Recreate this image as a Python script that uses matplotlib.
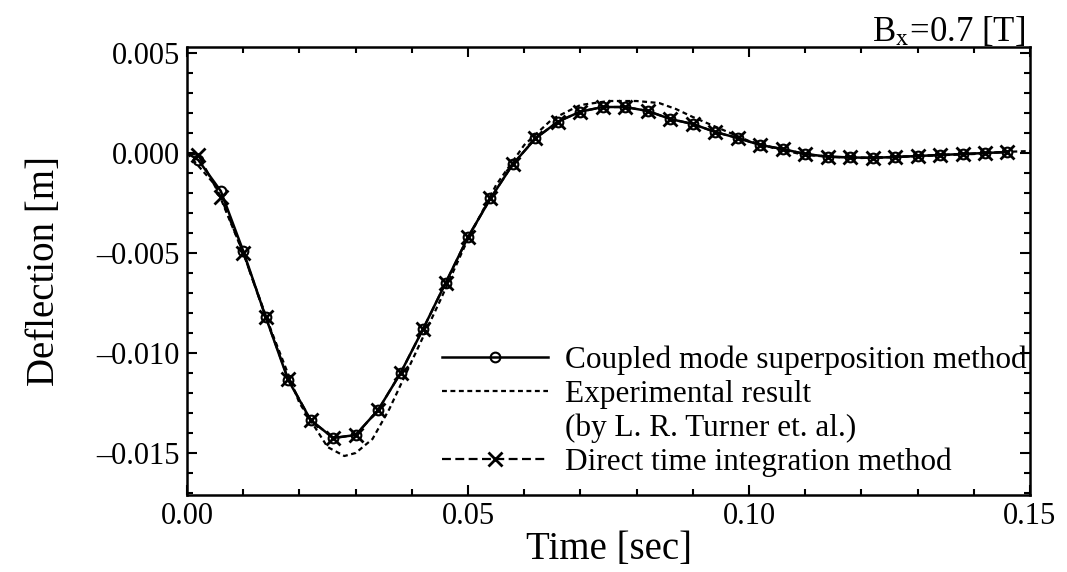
import numpy as np
from matplotlib import pyplot as plt
from matplotlib.lines import Line2D
from matplotlib.ticker import MultipleLocator, FixedLocator, FixedFormatter

plt.rcParams['font.family'] = ['Liberation Serif', 'DejaVu Serif']
plt.rcParams['mathtext.fontset'] = 'stix'

# marker times [sec] (t=0 start point is not marked)
TIME = [0.000, 0.002, 0.006, 0.010, 0.014, 0.018, 0.022, 0.026, 0.030, 0.034,
        0.038, 0.042, 0.046, 0.050, 0.054, 0.058, 0.062, 0.066, 0.070, 0.074,
        0.078, 0.082, 0.086, 0.090, 0.094, 0.098, 0.102, 0.106, 0.110, 0.114,
        0.118, 0.122, 0.126, 0.130, 0.134, 0.138, 0.142, 0.146]

# coupled mode superposition method
COUPLED = [0.0, -0.00035, -0.0019, -0.0049, -0.0082, -0.01135, -0.01335, -0.01425, -0.0141, -0.01285,
           -0.0110, -0.0088, -0.0065, -0.0042, -0.00227, -0.00055, 0.00073, 0.00157, 0.00207, 0.0023,
           0.0023, 0.0021, 0.0017, 0.00145, 0.00105, 0.00075, 0.0004, 0.0002, -0.00005, -0.00018,
           -0.00022, -0.00024, -0.0002, -0.00015, -0.0001, -0.00005, 0.0, 0.00005]

# direct time integration method
DIRECT = [0.0, -0.0001, -0.0022, -0.0050, -0.0082, -0.0113, -0.01335, -0.01425, -0.0141, -0.01285,
          -0.0110, -0.0088, -0.0065, -0.0042, -0.00227, -0.00055, 0.00073, 0.00157, 0.00207, 0.0023,
          0.0023, 0.0021, 0.0017, 0.00145, 0.00105, 0.00075, 0.0004, 0.0002, -0.00005, -0.00018,
          -0.00022, -0.00024, -0.0002, -0.00015, -0.0001, -0.00005, 0.0, 0.00005]

# experimental result (L. R. Turner et al.)
EXP_T = [0.000, 0.005, 0.010, 0.015, 0.020, 0.025, 0.028, 0.030, 0.033, 0.036,
         0.040, 0.045, 0.050, 0.055, 0.060, 0.065, 0.070, 0.075, 0.080, 0.084,
         0.087, 0.090, 0.095, 0.100, 0.105, 0.110, 0.115, 0.120, 0.125, 0.130,
         0.135, 0.140, 0.145, 0.150]
EXP = [0.0, -0.0016, -0.0050, -0.0089, -0.0125, -0.0147, -0.01515, -0.0150, -0.0143, -0.0128,
       -0.0104, -0.0074, -0.0043, -0.0016, 0.0004, 0.0017, 0.0024, 0.0026, 0.0026, 0.0025,
       0.0022, 0.0018, 0.0012, 0.0006, 0.0002, -0.0001, -0.0002, -0.00025, -0.0002, -0.00015,
       -0.0001, -0.00005, 0.00005, 0.0001]

XTICKS = [0.00, 0.05, 0.10, 0.15]
XLABELS = ["0.00", "0.05", "0.10", "0.15"]
YTICKS = [0.005, 0.0, -0.005, -0.010, -0.015]
YLABELS = ["0.005", "0.000", "\u20130.005", "\u20130.010", "\u20130.015"]

fig = plt.figure(figsize=(10.67, 5.72), dpi=100)
ax = fig.add_axes([0.1753, 0.1346, 0.79, 0.7832])

ax.plot(EXP_T, EXP, color="black", linestyle=(0, (2.2, 1.6)), linewidth=1.6)
ax.plot(TIME, DIRECT, color="black", linestyle=(0, (4, 2)), linewidth=1.6,
        marker="x", markersize=10, markeredgewidth=2.0, markevery=slice(1, None))
ax.plot(TIME, COUPLED, color="black", linestyle="-", linewidth=1.8,
        marker="o", markersize=7, markerfacecolor="none", markeredgewidth=1.5,
        markevery=slice(1, None))

ax.set_xlim(0, 0.15)
ax.set_ylim(-0.0171, 0.0053)
ax.xaxis.set_major_locator(FixedLocator(XTICKS))
ax.xaxis.set_major_formatter(FixedFormatter(XLABELS))
ax.xaxis.set_minor_locator(MultipleLocator(0.01))
ax.yaxis.set_major_locator(FixedLocator(YTICKS))
ax.yaxis.set_major_formatter(FixedFormatter(YLABELS))
ax.yaxis.set_minor_locator(MultipleLocator(0.001))
ax.tick_params(which="both", direction="in", top=True, right=True, width=1.5, labelsize=22)
ax.tick_params(which="major", length=7, pad=5)
ax.tick_params(which="minor", length=4)
for s in ax.spines.values():
    s.set_linewidth(1.8)

ax.set_xlabel("Time [sec]", fontsize=28, labelpad=0)
ax.set_ylabel("Deflection [m]", fontsize=28, labelpad=24)
ax.text(0.994, 1.013, r"B$_\mathrm{x}$=0.7 [T]", transform=ax.transAxes, ha="right", va="baseline", fontsize=25)

handles = [
    Line2D([], [], color="black", linestyle="-", linewidth=1.8, marker="o", markersize=7,
           markerfacecolor="none", markeredgewidth=1.5),
    Line2D([], [], color="black", linestyle=(0, (2.2, 1.6)), linewidth=1.6),
    Line2D([], [], linestyle="none"),
    Line2D([], [], color="black", linestyle=(0, (4, 2)), linewidth=1.6, marker="x",
           markersize=10, markeredgewidth=2.0),
]
labels = ["Coupled mode superposition method", "Experimental result",
          "(by L. R. Turner et. al.)", "Direct time integration method"]
ax.legend(handles, labels, loc="lower left", bbox_to_anchor=(0.3025, 0.04), frameon=False,
          fontsize=22.5, handlelength=3.4, handletextpad=0.55, labelspacing=0.15,
          borderaxespad=0, borderpad=0)

fig.savefig("out.png", dpi=100)
